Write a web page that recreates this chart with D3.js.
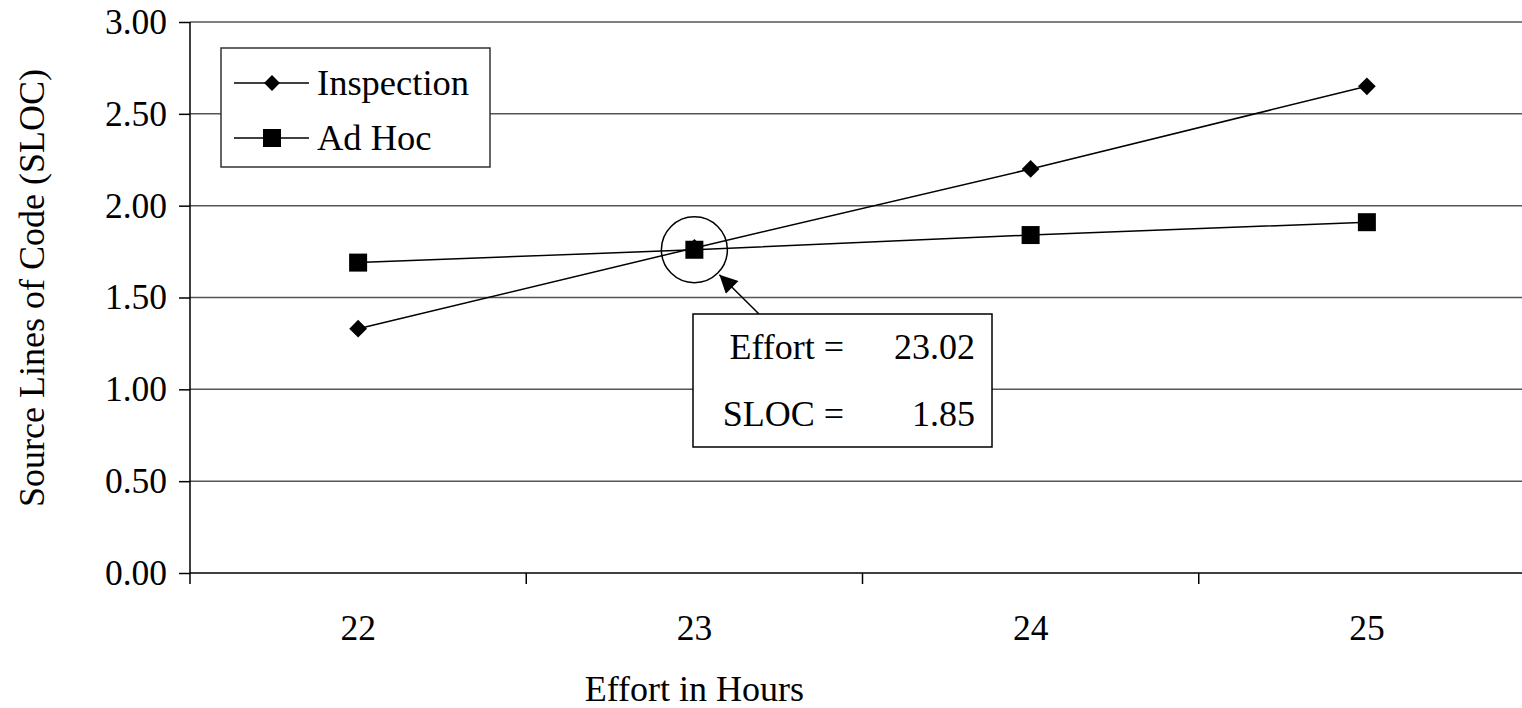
<!DOCTYPE html>
<html>
<head>
<meta charset="utf-8">
<script src="https://cdn.jsdelivr.net/npm/d3@7"></script>
<style>
  body { margin: 0; background: #fff; }
  svg text { font-family: "Liberation Serif", "Times New Roman", Times, serif; }
</style>
</head>
<body>
<svg id="chart" width="1522" height="708"></svg>
<script>
// data
var efforts = ["22", "23", "24", "25"];
var inspection = [1.33, 1.77, 2.20, 2.65];
var adHoc = [1.69, 1.76, 1.84, 1.91];
var yTicks = [0, 0.5, 1, 1.5, 2, 2.5, 3];
var callout = {effort: "23.02", sloc: "1.85", at: "23", value: 1.76};

var fontSize = 35.5;
var margin = {left: 190, top: 22};
var width = 1522, height = 708;

var svg = d3.select("#chart");

var x = d3.scaleBand().domain(efforts).range([margin.left, 1535]);
var y = d3.scaleLinear().domain([0, 3]).range([573, margin.top]);

//gridlines
svg.append("g").selectAll("line")
  .data(yTicks.filter(function(d){ return d > 0; }))
  .enter().append("line")
    .attr("x1", margin.left).attr("x2", width)
    .attr("y1", function(d){ return y(d); })
    .attr("y2", function(d){ return y(d); })
    .style("stroke", "#555")
    .style("stroke-width", 1.5);

//Y axis
var yAxis = svg.append("g")
  .attr("transform", "translate(" + margin.left + ",0)")
  .call(d3.axisLeft(y).tickValues(yTicks).tickSize(11).tickPadding(12).tickFormat(d3.format(".2f")));
yAxis.attr("font-family", null).attr("font-size", null);
yAxis.selectAll("text").style("font-size", fontSize + "px").attr("fill", "#000");
yAxis.select(".domain").attr("d", "M0," + (y(0) + 11) + "V" + y(3)).style("stroke", "#000").style("stroke-width", 1.5);
yAxis.selectAll(".tick line").style("stroke", "#000").style("stroke-width", 1.5);

//X axis, ticks at band boundaries
var xAxis = svg.append("g")
  .attr("transform", "translate(0," + y(0) + ")");
xAxis.append("line")
  .attr("x1", margin.left).attr("x2", width)
  .style("stroke", "#000").style("stroke-width", 1.5);
xAxis.selectAll(".bt")
  .data(efforts.slice(1))
  .enter().append("line")
    .attr("class", "bt")
    .attr("x1", function(d){ return x(d); })
    .attr("x2", function(d){ return x(d); })
    .attr("y1", 0).attr("y2", 11)
    .style("stroke", "#000").style("stroke-width", 1.5);
xAxis.selectAll("text")
  .data(efforts)
  .enter().append("text")
    .attr("x", function(d){ return x(d) + x.bandwidth() / 2; })
    .attr("y", 67)
    .attr("text-anchor", "middle")
    .style("font-size", fontSize + "px")
    .text(function(d){ return d; });

//axis titles
svg.append("text")
  .attr("x", x("23") + x.bandwidth() / 2)
  .attr("y", 701)
  .attr("text-anchor", "middle")
  .style("font-size", "36px")
  .text("Effort in Hours");

svg.append("text")
  .attr("transform", "translate(44,288) rotate(-90)")
  .attr("text-anchor", "middle")
  .style("font-size", "36px")
  .text("Source Lines of Code (SLOC)");

//series
var cx = function(i){ return x(efforts[i]) + x.bandwidth() / 2; };
var line = d3.line()
  .x(function(d, i){ return cx(i); })
  .y(function(d){ return y(d); });

var diamond = d3.symbol().type(d3.symbolDiamond2).size(200);

function drawSeries(values, marker){
  svg.append("path")
    .datum(values)
    .attr("d", line)
    .style("fill", "none")
    .style("stroke", "#000")
    .style("stroke-width", 1.5);
  var g = svg.append("g");
  values.forEach(function(v, i){
    if(marker == "diamond"){
      g.append("path")
        .attr("d", diamond())
        .attr("transform", "translate(" + cx(i) + "," + y(v) + ")")
        .style("fill", "#000");
    } else {
      g.append("rect")
        .attr("x", cx(i) - 9).attr("y", y(v) - 9)
        .attr("width", 18).attr("height", 18)
        .style("fill", "#000");
    }
  });
}
drawSeries(inspection, "diamond");
drawSeries(adHoc, "square");

//callout circle and arrow
var px = x(callout.at) + x.bandwidth() / 2, py = y(callout.value);
svg.append("circle")
  .attr("cx", px).attr("cy", py).attr("r", 33)
  .style("fill", "none").style("stroke", "#000").style("stroke-width", 1.5);

svg.append("defs").append("marker")
  .attr("id", "arrow")
  .attr("viewBox", "0 0 10 10")
  .attr("refX", 10).attr("refY", 5)
  .attr("markerWidth", 22).attr("markerHeight", 18)
  .attr("markerUnits", "userSpaceOnUse")
  .attr("orient", "auto")
  .append("path").attr("d", "M0,0L10,5L0,10Z").style("fill", "#000");

svg.append("line")
  .attr("x1", 759).attr("y1", 314)
  .attr("x2", px + 25).attr("y2", py + 25)
  .style("stroke", "#000").style("stroke-width", 1.5)
  .attr("marker-end", "url(#arrow)");

var box = svg.append("g");
box.append("rect")
  .attr("x", 693).attr("y", 314).attr("width", 299).attr("height", 133)
  .style("fill", "#fff").style("stroke", "#000").style("stroke-width", 1.5);
[["Effort =", callout.effort, 359], ["SLOC =", callout.sloc, 426]].forEach(function(r){
  box.append("text").attr("x", 844).attr("y", r[2]).attr("text-anchor", "end")
    .style("font-size", "36px").text(r[0]);
  box.append("text").attr("x", 975).attr("y", r[2]).attr("text-anchor", "end")
    .style("font-size", "36px").text(r[1]);
});

//legend
var legend = svg.append("g");
legend.append("rect")
  .attr("x", 221).attr("y", 48).attr("width", 269).attr("height", 119)
  .style("fill", "#fff").style("stroke", "#333").style("stroke-width", 1.5);
[["Inspection", "diamond", 83], ["Ad Hoc", "square", 138]].forEach(function(d){
  legend.append("line")
    .attr("x1", 234).attr("x2", 309).attr("y1", d[2]).attr("y2", d[2])
    .style("stroke", "#000").style("stroke-width", 1.5);
  if(d[1] == "diamond"){
    legend.append("path").attr("d", d3.symbol().type(d3.symbolDiamond2).size(160)())
      .attr("transform", "translate(272," + d[2] + ")").style("fill", "#000");
  } else {
    legend.append("rect").attr("x", 263).attr("y", d[2] - 9).attr("width", 18).attr("height", 18).style("fill", "#000");
  }
  legend.append("text").attr("x", 317).attr("y", d[2] + 12)
    .style("font-size", "36.5px").text(d[0]);
});
</script>
</body>
</html>
